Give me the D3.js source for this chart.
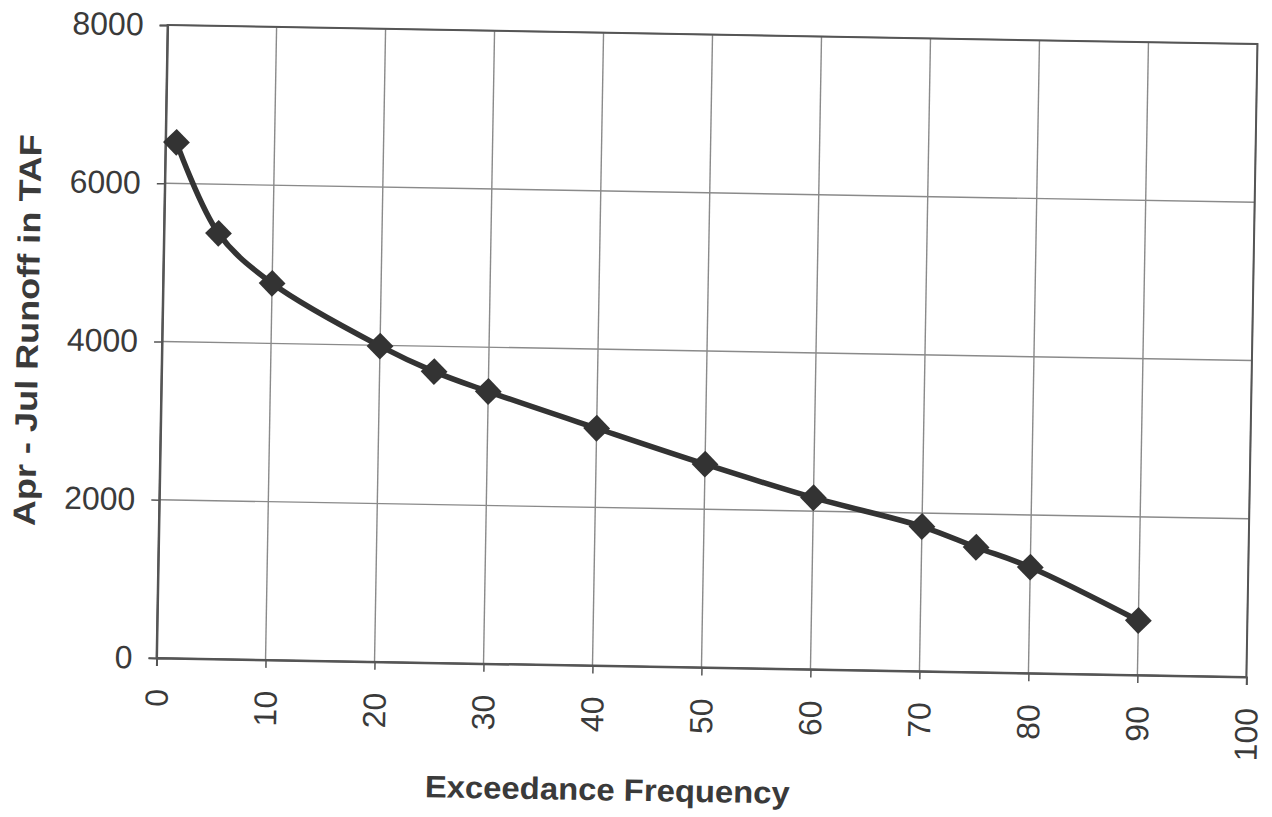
<!DOCTYPE html>
<html>
<head>
<meta charset="utf-8">
<script src="https://cdn.jsdelivr.net/npm/d3@7"></script>
<style>
  html, body { margin: 0; padding: 0; background: #fff; }
  svg { display: block; }
</style>
</head>
<body>
<svg id="chart" width="1272" height="817"></svg>
<script>
// ---- data ----
const exceedance = [1, 5, 10, 20, 25, 30, 40, 50, 60, 70, 75, 80, 90];
const runoff     = [6520, 5380, 4760, 3990, 3680, 3440, 3000, 2570, 2170, 1830, 1580, 1340, 690];
const xTicks = [0, 10, 20, 30, 40, 50, 60, 70, 80, 90, 100];
const yTicks = [0, 2000, 4000, 6000, 8000];
const xTitle = "Exceedance Frequency";
const yTitle = "Apr - Jul Runoff in TAF";

// ---- layout ----
const W = 1272, H = 817;
const plot = { left: 162, right: 1252, top: 34.5, bottom: 667.5 };

const svg = d3.select("#chart");
svg.append("rect").attr("width", W).attr("height", H).attr("fill", "#fff");

// the scanned original is slightly skewed; reproduce the tilt
const g = svg.append("g").attr("transform", "rotate(1, 705, 351)");

const x = d3.scaleLinear().domain([0, 100]).range([plot.left, plot.right]);
const y = d3.scaleLinear().domain([0, 8000]).range([plot.bottom, plot.top]);

const font = "'Liberation Sans', Arial, sans-serif";
const textCol = "#3a3a3a";

// gridlines
g.append("g").selectAll("line").data(xTicks).join("line")
  .attr("x1", d => x(d)).attr("x2", d => x(d))
  .attr("y1", plot.top).attr("y2", plot.bottom)
  .attr("stroke", "#8a8a8a").attr("stroke-width", 1.4);
g.append("g").selectAll("line").data(yTicks).join("line")
  .attr("x1", plot.left).attr("x2", plot.right)
  .attr("y1", d => y(d)).attr("y2", d => y(d))
  .attr("stroke", "#8a8a8a").attr("stroke-width", 1.4);

// border
g.append("rect")
  .attr("x", plot.left).attr("y", plot.top)
  .attr("width", plot.right - plot.left).attr("height", plot.bottom - plot.top)
  .attr("fill", "none").attr("stroke", "#555").attr("stroke-width", 2);

// axes
const yAxis = d3.axisLeft(y).tickValues(yTicks).tickSize(8).tickPadding(16).tickFormat(d3.format("d"));
const yG = g.append("g").attr("transform", `translate(${plot.left},0)`).call(yAxis);
yG.select(".domain").attr("stroke", "#555").attr("stroke-width", 2);
yG.selectAll(".tick line").attr("stroke", "#555").attr("stroke-width", 1.5);
yG.selectAll(".tick text").attr("font-family", font).attr("font-size", 32)
  .attr("fill", textCol);

const xAxis = d3.axisBottom(x).tickValues(xTicks).tickSize(8).tickFormat(d3.format("d"));
const xG = g.append("g").attr("transform", `translate(0,${plot.bottom})`).call(xAxis);
xG.select(".domain").attr("stroke", "#555").attr("stroke-width", 2);
xG.selectAll(".tick line").attr("stroke", "#555").attr("stroke-width", 1.5);
xG.selectAll(".tick text")
  .attr("font-family", font).attr("font-size", 32).attr("fill", textCol)
  .attr("text-anchor", "end")
  .attr("transform", "rotate(-90)")
  .attr("x", -31).attr("y", 0).attr("dy", "0.35em");

// titles
g.append("text")
  .attr("x", 615).attr("y", 802)
  .attr("text-anchor", "middle")
  .attr("font-family", font).attr("font-weight", "bold").attr("font-size", 31)
  .attr("fill", textCol)
  .attr("textLength", 365).attr("lengthAdjust", "spacingAndGlyphs")
  .text(xTitle);

g.append("text")
  .attr("transform", "translate(38,342) rotate(-90)")
  .attr("text-anchor", "middle")
  .attr("font-family", font).attr("font-weight", "bold").attr("font-size", 31)
  .attr("fill", textCol)
  .attr("textLength", 392).attr("lengthAdjust", "spacingAndGlyphs")
  .text(yTitle);

// series
const pts = exceedance.map((e, i) => [e, runoff[i]]);
const line = d3.line().x(d => x(d[0])).y(d => y(d[1])).curve(d3.curveCatmullRom.alpha(0.5));
g.append("path").datum(pts)
  .attr("d", line)
  .attr("fill", "none").attr("stroke", "#333").attr("stroke-width", 5.5)
  .attr("stroke-linejoin", "round");

const sym = d3.symbol().type(d3.symbolSquare).size(360);
g.append("g").selectAll("path").data(pts).join("path")
  .attr("d", sym)
  .attr("transform", d => `translate(${x(d[0])},${y(d[1])}) rotate(45)`)
  .attr("fill", "#333");
</script>
</body>
</html>
